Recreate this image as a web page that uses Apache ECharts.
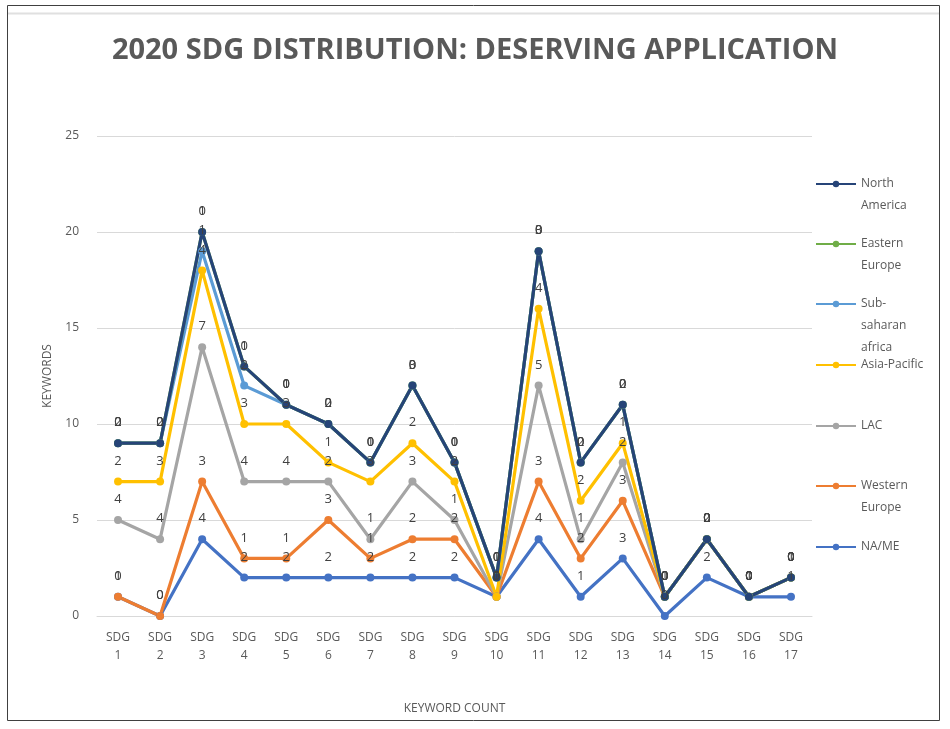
<!DOCTYPE html>
<html>
<head>
<meta charset="utf-8">
<script src="https://cdn.jsdelivr.net/npm/echarts@6/dist/echarts.min.js"></script>
<style>
html,body{margin:0;padding:0;background:#fff;}
#chart{width:950px;height:729px;}
</style>
</head>
<body>
<div id="chart"></div>
<script>
// Categories
const categories = ['SDG 1','SDG 2','SDG 3','SDG 4','SDG 5','SDG 6','SDG 7','SDG 8','SDG 9','SDG 10','SDG 11','SDG 12','SDG 13','SDG 14','SDG 15','SDG 16','SDG 17'];
// Series values (stacked line, individual counts)
const naMe         = [1,0,4,2,2,2,2,2,2,1,4,1,3,0,2,1,1];
const westernEur   = [0,0,3,1,1,3,1,2,2,0,3,2,3,1,2,0,1];
const lac          = [4,4,7,4,4,2,1,3,1,0,5,1,2,0,0,0,0];
const asiaPacific  = [2,3,4,3,3,1,3,2,2,0,4,2,1,0,0,0,0];
const subSaharan   = [2,2,1,2,1,2,1,3,1,1,3,2,2,0,0,0,0];
const easternEur   = [0,0,1,1,0,0,0,0,0,0,0,0,0,0,0,0,0];
const northAmerica = [0,0,0,0,0,0,0,0,0,0,0,0,0,0,0,0,0];
// Y-axis ticks
const yTicks = [0,5,10,15,20,25];
// Legend names (display order) and wrapped labels
const legendNames = ['North America','Eastern Europe','Sub-saharan africa','Asia-Pacific','LAC','Western Europe','NA/ME'];
const legendWrapped = ['North\nAmerica','Eastern\nEurope','Sub-\nsaharan\nafrica','Asia-Pacific','LAC','Western\nEurope','NA/ME'];

const colors = {
  'NA/ME':'#4472C4',
  'Western Europe':'#ED7D31',
  'LAC':'#A5A5A5',
  'Asia-Pacific':'#FFC000',
  'Sub-saharan africa':'#5B9BD5',
  'Eastern Europe':'#70AD47',
  'North America':'#264478'
};
const stackOrder = [
  ['NA/ME', naMe],
  ['Western Europe', westernEur],
  ['LAC', lac],
  ['Asia-Pacific', asiaPacific],
  ['Sub-saharan africa', subSaharan],
  ['Eastern Europe', easternEur],
  ['North America', northAmerica]
];

const series = stackOrder.map(([name, data]) => ({
  name: name,
  type: 'line',
  stack: 'total',
  data: data,
  symbol: 'circle',
  symbolSize: 8,
  lineStyle: {width: 3.2, color: colors[name]},
  itemStyle: {color: colors[name]},
  label: {show: true, position: 'top', distance: 10, color: '#404040', fontSize: 13, fontFamily: 'Open Sans'},
  emphasis: {disabled: true},
  animation: false
}));

const LH = 22;
const iconY = [184, 244, 304, 365, 426, 486, 547];
const legends = legendNames.map((n, i) => {
  const lines = legendWrapped[i].split('\n').length;
  const padded = '\n'.repeat(lines - 1) + legendWrapped[i];
  return {
    orient: 'vertical',
    left: 815,
    top: iconY[i] - (2*lines - 1) * LH / 2,
    padding: 0,
    itemWidth: 40,
    itemHeight: 8,
    itemGap: 0,
    selectedMode: false,
    data: [n],
    formatter: () => padded,
    textStyle: {color: '#595959', fontSize: 12, fontFamily: 'Open Sans', lineHeight: LH}
  };
});

const chart = echarts.init(document.getElementById('chart'), null, {renderer: 'canvas'});
chart.setOption({
  backgroundColor: '#ffffff',
  animation: false,
  title: {
    text: '2020 SDG DISTRIBUTION: DESERVING APPLICATION',
    left: 'center',
    top: 31,
    textStyle: {color: '#595959', fontSize: 29, fontWeight: 'bold', fontFamily: 'Open Sans'}
  },
  legend: legends,
  grid: {left: 97, top: 136, width: 715, height: 480, containLabel: false},
  xAxis: {
    type: 'category',
    data: categories,
    boundaryGap: true,
    name: 'KEYWORD COUNT',
    nameLocation: 'middle',
    nameGap: 87,
    nameTextStyle: {color: '#595959', fontSize: 12, fontFamily: 'Open Sans'},
    axisLine: {show: true, lineStyle: {color: '#D9D9D9'}},
    axisTick: {show: false},
    axisLabel: {color: '#595959', fontSize: 12, fontFamily: 'Open Sans', lineHeight: 18, margin: 13,
      formatter: v => v.replace(' ', '\n'), interval: 0}
  },
  yAxis: {
    type: 'value',
    min: yTicks[0],
    max: yTicks[yTicks.length-1],
    interval: yTicks[1] - yTicks[0],
    name: 'KEYWORDS',
    nameLocation: 'middle',
    nameGap: 43,
    nameRotate: 90,
    nameTextStyle: {color: '#595959', fontSize: 12, fontFamily: 'Open Sans'},
    axisLine: {show: false},
    axisTick: {show: false},
    axisLabel: {color: '#595959', fontSize: 12, fontFamily: 'Open Sans', margin: 18},
    splitLine: {lineStyle: {color: '#D9D9D9', width: 1}}
  },
  graphic: [
    {type: 'rect', shape: {x: 7.5, y: 5.5, width: 932, height: 715}, style: {fill: 'none', stroke: '#404040', lineWidth: 1}, silent: true, z: -1},
    {type: 'line', shape: {x1: 8, y1: 13.5, x2: 939, y2: 13.5}, style: {stroke: '#E0E0E0', lineWidth: 2}, silent: true, z: -1}
  ],
  series: series
});
</script>
</body>
</html>
